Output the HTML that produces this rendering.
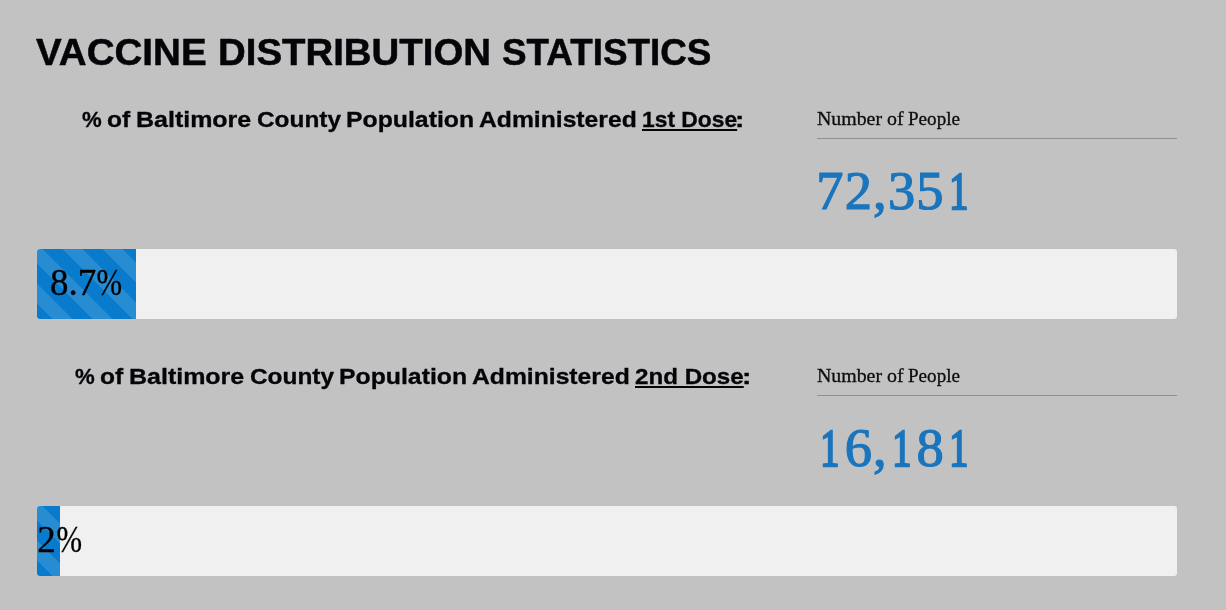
<!DOCTYPE html>
<html lang="en">
<head>
<meta charset="utf-8">
<title>Vaccine Distribution Statistics</title>
<style>
  html, body { margin: 0; padding: 0; }
  body {
    width: 1226px; height: 610px; overflow: hidden; position: relative;
    background: #c2c2c2; color: #050509;
    font-family: "Liberation Serif", serif;
  }
  .w { position: absolute; top: 0; white-space: nowrap; transform-origin: 0 50%; display: block; }
  h1, h2 { margin: 0; font-family: "Liberation Sans", sans-serif; font-weight: 700; position: absolute; left: 0; width: 1226px; white-space: nowrap; }
  h1 { top: 31px; height: 44px; font-size: 36px; line-height: 44px; -webkit-text-stroke: 0.5px #050509; }
  h2 { height: 28px; font-size: 22px; line-height: 28px; -webkit-text-stroke: 0.3px #050509; }
  .ul { text-decoration: underline; text-decoration-thickness: 1.6px; text-underline-offset: 1.8px; text-decoration-skip-ink: none; }
  .label { position: absolute; left: 0; width: 1226px; height: 28px; font-size: 19.5px; line-height: 28px; color: #0c0c0c; -webkit-text-stroke: 0.3px #0c0c0c; }
  .rule { position: absolute; left: 817px; width: 360px; height: 1px; background: #8f8f8f; }
  .value { position: absolute; left: 816.2px; height: 70px; font-size: 54.5px; line-height: 70px; letter-spacing: 1.2px; color: #1a75bd; -webkit-text-stroke: 1.2px #1a75bd; white-space: nowrap; }
  .one { display: inline-block; transform: scale(.7, .97); transform-origin: 50% 60%; -webkit-text-stroke-width: 2.4px; }
  .progress { position: absolute; left: 37px; width: 1140px; height: 70px; background: #f0f0f0; border-radius: 3px; }
  .bar {
    position: absolute; left: 0; top: 0; height: 70px; border-radius: 3px 0 0 3px;
    background-color: #087bcd;
    background-image: linear-gradient(45deg, rgba(255,255,255,.13) 25%, transparent 25%, transparent 50%, rgba(255,255,255,.13) 50%, rgba(255,255,255,.13) 75%, transparent 75%, transparent);
    background-size: 40px 40px; background-position: -14px 0;
  }
  .pct { position: absolute; top: -1px; height: 70px; font-size: 37px; line-height: 70px; color: #000; -webkit-text-stroke: 0.3px #000; white-space: nowrap; }
  .pct i { font-style: normal; display: inline-block; transform: scaleX(.83); transform-origin: 50% 50%; margin-left: -2px; }
</style>
</head>
<body>
  <h1>
      <span class="w" style="left:36.21px;transform:scaleX(1.0707)">VACCINE</span>
      <span class="w" style="left:217.58px;transform:scaleX(1.0663)">DISTRIBUTION</span>
      <span class="w" style="left:501.75px;transform:scaleX(1.0226)">STATISTICS</span>
  </h1>

  <section>
    <h2 style="top:106px">
      <span class="w" style="left:81.78px;transform:scaleX(1.007)">%</span>
      <span class="w" style="left:106.86px;transform:scaleX(1.1155)">of</span>
      <span class="w" style="left:136.02px;transform:scaleX(1.1357)">Baltimore</span>
      <span class="w" style="left:256.77px;transform:scaleX(1.1083)">County</span>
      <span class="w" style="left:346.23px;transform:scaleX(1.1272)">Population</span>
      <span class="w" style="left:478.75px;transform:scaleX(1.1219)">Administered</span>
      <span class="w ul" style="left:641.5px;transform:scaleX(1.0375)">1st Dose</span>
      <span class="w" style="left:734.74px;transform:scaleX(1.2798)">:</span>
    </h2>
    <div class="label" style="top:105px">
      <span class="w" style="left:816.72px;transform:scaleX(1.0175)">Number</span>
      <span class="w" style="left:887.03px;transform:scaleX(1.0195)">of</span>
      <span class="w" style="left:907.64px;transform:scaleX(0.9791)">People</span>
    </div>
    <div class="rule" style="top:138px"></div>
    <div class="value" style="top:156px">72,35<span class="one">1</span></div>
    <div class="progress" style="top:249px">
      <div class="bar" style="width:99px"></div>
      <div class="pct" style="left:13.1px">8.7<i>%</i></div>
    </div>
  </section>

  <section>
    <h2 style="top:363px">
      <span class="w" style="left:74.88px;transform:scaleX(1.007)">%</span>
      <span class="w" style="left:99.96px;transform:scaleX(1.1155)">of</span>
      <span class="w" style="left:129.12px;transform:scaleX(1.1357)">Baltimore</span>
      <span class="w" style="left:249.87px;transform:scaleX(1.1083)">County</span>
      <span class="w" style="left:339.33px;transform:scaleX(1.1272)">Population</span>
      <span class="w" style="left:471.85px;transform:scaleX(1.1219)">Administered</span>
      <span class="w ul" style="left:634.82px;transform:scaleX(1.0981)">2nd Dose</span>
      <span class="w" style="left:741.64px;transform:scaleX(1.2798)">:</span>
    </h2>
    <div class="label" style="top:362px">
      <span class="w" style="left:816.72px;transform:scaleX(1.0175)">Number</span>
      <span class="w" style="left:887.03px;transform:scaleX(1.0195)">of</span>
      <span class="w" style="left:907.64px;transform:scaleX(0.9791)">People</span>
    </div>
    <div class="rule" style="top:395px"></div>
    <div class="value" style="top:413px"><span class="one">1</span>6,<span class="one">1</span>8<span class="one">1</span></div>
    <div class="progress" style="top:506px">
      <div class="bar" style="width:23px"></div>
      <div class="pct" style="left:0.3px">2<i>%</i></div>
    </div>
  </section>
</body>
</html>
